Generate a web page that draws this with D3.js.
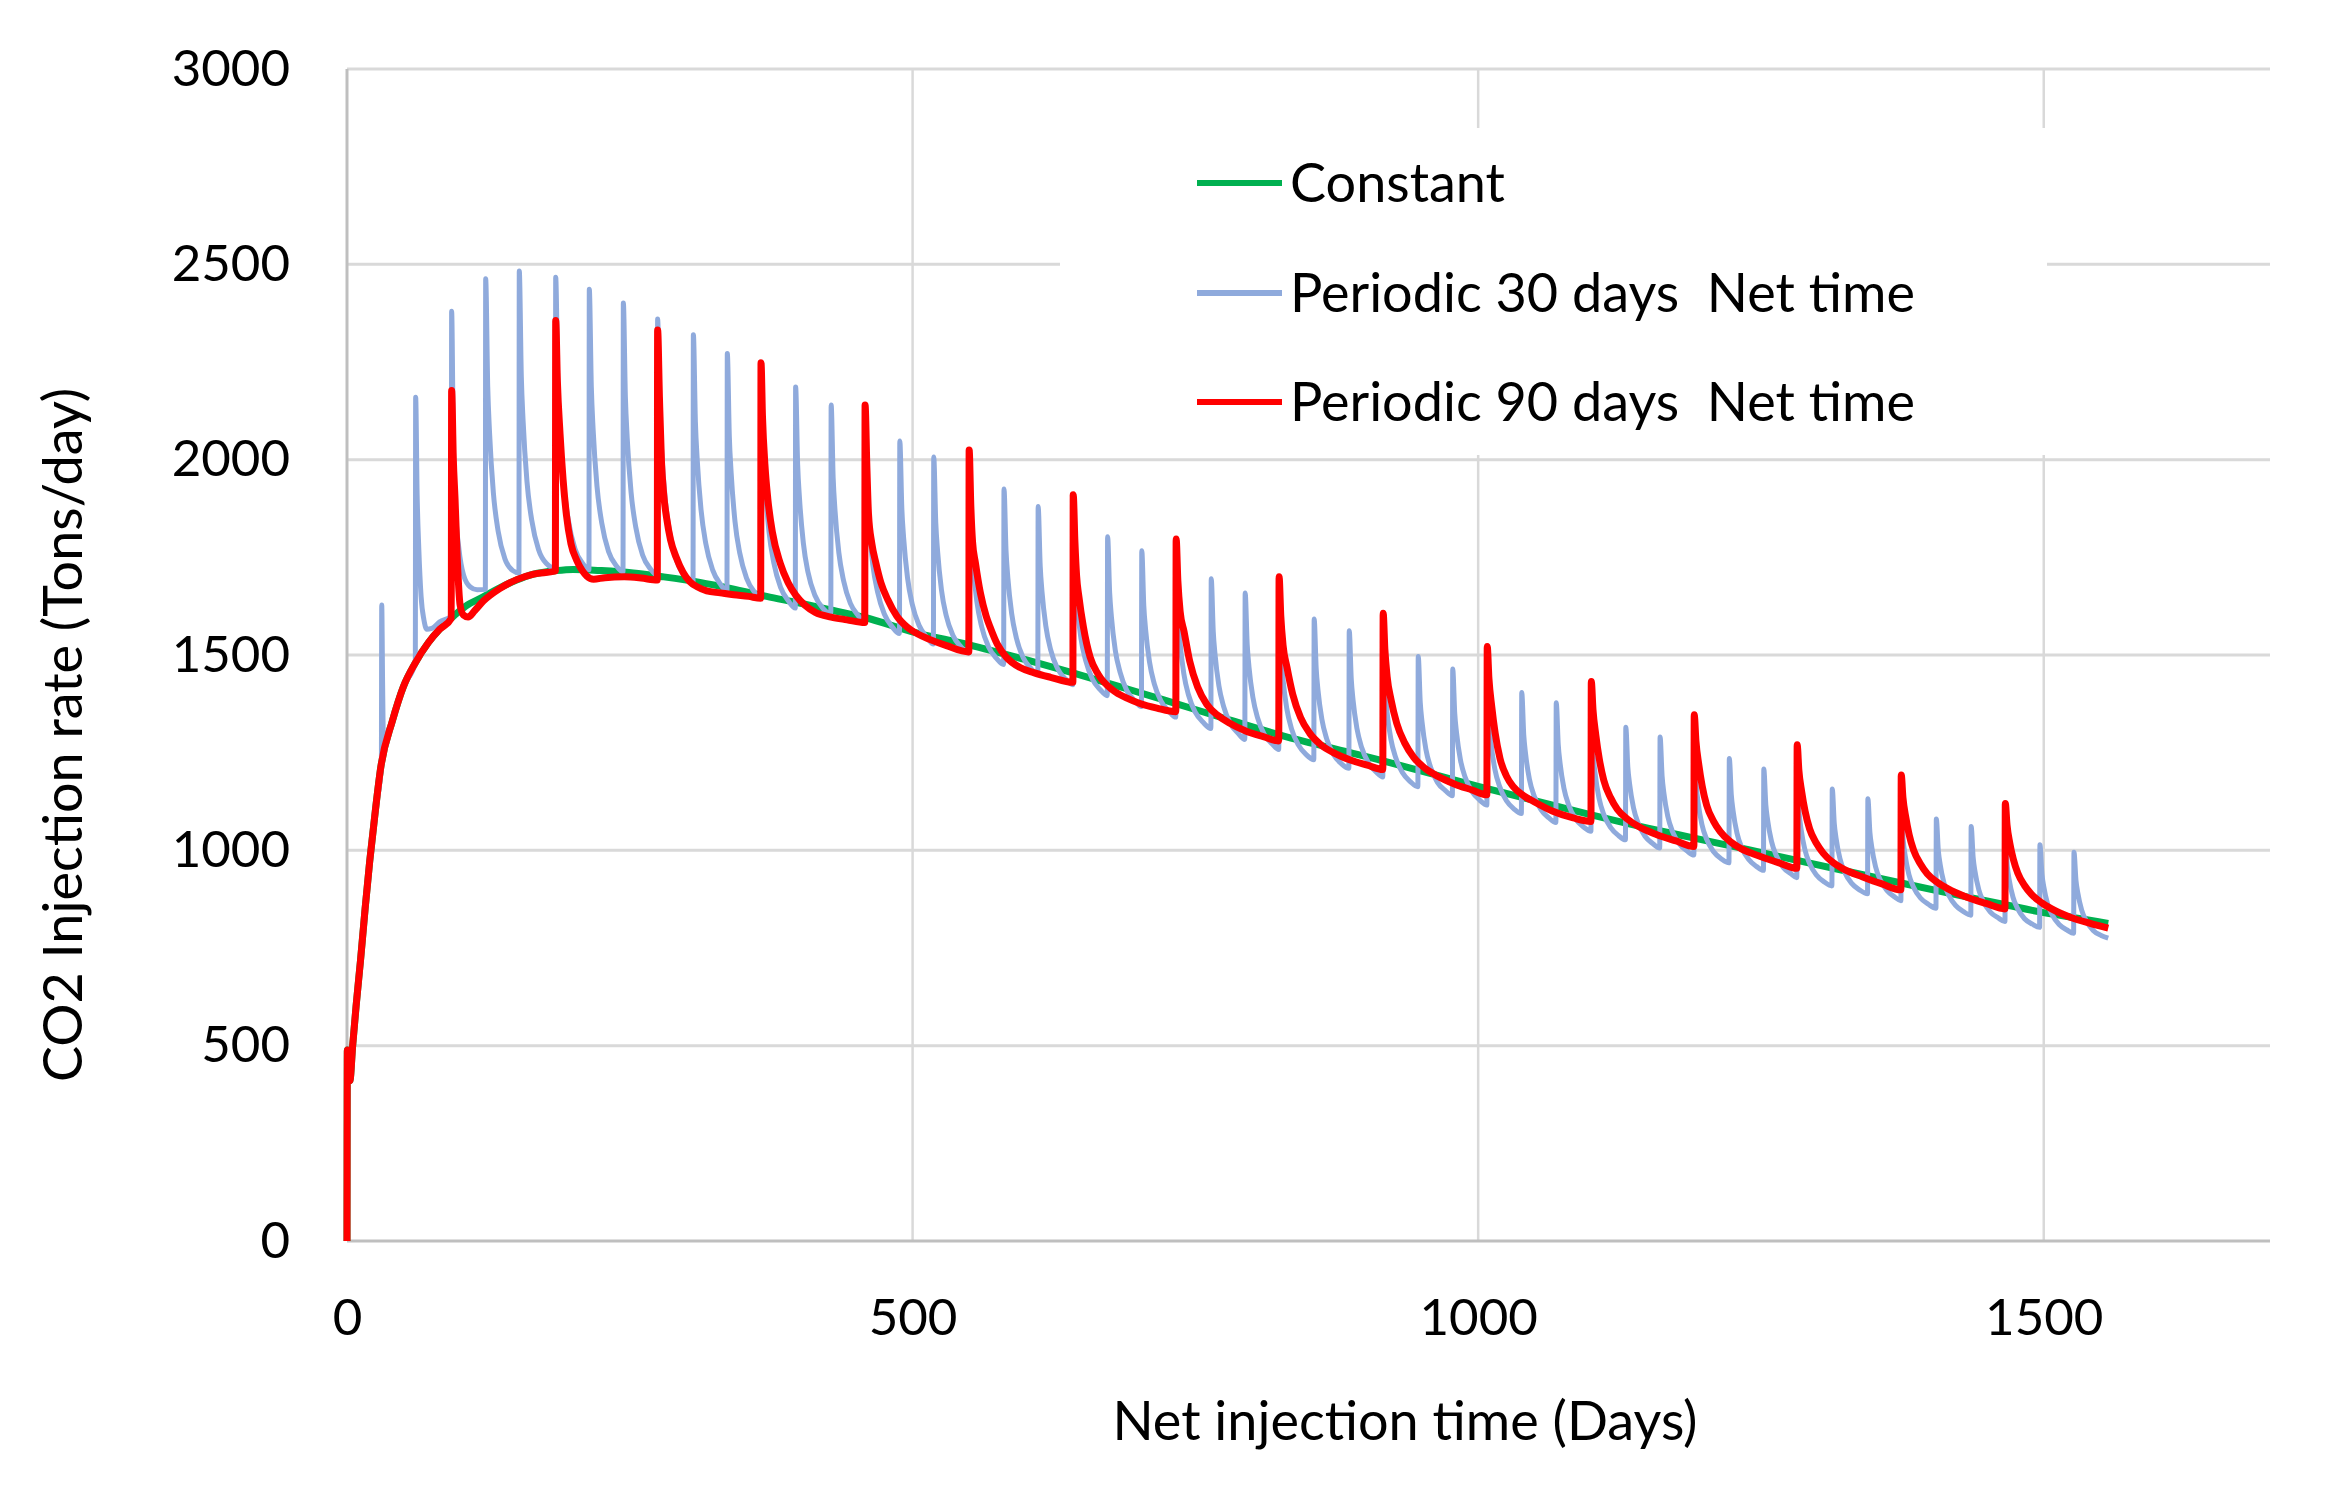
<!DOCTYPE html>
<html>
<head>
<meta charset="utf-8">
<script src="https://cdn.jsdelivr.net/npm/d3@7"></script>
<style>
    body { margin: 0; background: #fff; }
    text { font-family: Lato, "Open Sans", sans-serif; fill: #000; }
</style>
</head>
<body>
<svg id="chart" width="2339" height="1489"></svg>
<script>

// x ticks / y ticks
var xTicks = [0, 500, 1000, 1500];
var yTicks = [0, 500, 1000, 1500, 2000, 2500, 3000];

var seriesNames = ['Constant', 'Periodic 30 days  Net time', 'Periodic 90 days  Net time'];
var seriesColors = ['#00b050', '#8faadc', '#ff0000'];

// [net injection day, rate tons/day]
var constantRate = [
    [0, 0], [0.3, 489], [2.5, 410], [5, 500], [8, 600], [12, 720], [16, 850], [20, 970], [25, 1100], [30, 1215],
    [40, 1330], [50, 1420], [60, 1478], [72, 1532], [82, 1566], [92.5, 1595], [105, 1625], [120, 1648], [135, 1672],
    [150, 1692], [165, 1707], [185, 1716], [200, 1719], [225, 1716], [253, 1710], [280, 1700], [312, 1686], [340, 1670],
    [371, 1650], [400, 1633], [430, 1614], [458, 1596], [499, 1560], [550, 1526], [600, 1488], [641, 1455], [690, 1413],
    [730, 1378], [780, 1334], [829, 1292], [870, 1262], [916, 1229], [960, 1195], [1000, 1164], [1050, 1127],
    [1100, 1091], [1150, 1057], [1190, 1032], [1240, 1001], [1284, 973], [1330, 944], [1373, 917], [1420, 888],
    [1464, 862], [1501, 840], [1530, 826], [1557, 813]
];

var periodic30Rate = [
    [0, 0], [0.3, 489], [2.5, 410], [5, 500], [8, 600], [12, 720], [16, 850], [20, 970], [25, 1100], [30.4, 1218],
    [30.7, 1628], [31.5, 1420], [32.4, 1250], [34, 1265], [40, 1330], [50, 1420], [60.4, 1480],
    [60.7, 2160], [62, 1910], [63.5, 1770], [65.5, 1650], [68, 1590], [70.5, 1566], [75, 1568], [82, 1585], [92.2, 1600],
    [92.5, 2380], [94, 2040], [95.6, 1890], [99, 1770], [103, 1705], [109, 1674], [115, 1667], [122.3, 1668],
    [122.6, 2463], [124.4, 2187], [126, 2070], [129.4, 1915], [133.6, 1817], [139.6, 1746], [146.6, 1716], [152, 1710],
    [152.3, 2483], [154.1, 2213], [155.7, 2098], [159.1, 1944], [163.3, 1845], [169.3, 1770], [176.3, 1734], [184.2, 1722],
    [184.5, 2467], [186.3, 2206], [187.9, 2095], [191.3, 1945], [195.5, 1848], [201.5, 1772], [208.5, 1734], [213.9, 1718],
    [214.2, 2436], [216, 2185], [217.6, 2076], [221, 1932], [225.2, 1838], [231.2, 1765], [238.2, 1728], [244, 1713],
    [244.3, 2401], [246.1, 2160], [247.7, 2056], [251.1, 1917], [255.3, 1827], [261.3, 1756], [268.3, 1720], [274.3, 1704],
    [274.6, 2360], [276.4, 2129], [278, 2030], [281.4, 1897], [285.6, 1809], [291.6, 1740], [298.6, 1702], [305.9, 1684],
    [306.2, 2320], [308, 2096], [309.6, 2000], [313, 1871], [317.2, 1785], [323.2, 1718], [330.2, 1681], [335.9, 1663],
    [336.2, 2272], [338, 2058], [339.6, 1966], [343, 1842], [347.2, 1761], [353.2, 1697], [360.2, 1661], [366, 1645],
    [366.3, 2228], [368.1, 2023], [369.7, 1934], [373.1, 1815], [377.3, 1736], [383.3, 1673], [390.3, 1638], [396.3, 1620],
    [396.6, 2186], [398.4, 1987], [400, 1902], [403.4, 1787], [407.6, 1711], [413.6, 1653], [420.6, 1620], [427.7, 1606],
    [428, 2140], [429.8, 1952], [431.4, 1871], [434.8, 1762], [439, 1690], [445, 1632], [452, 1601], [457.7, 1585],
    [458, 2095], [459.8, 1915], [461.4, 1837], [464.8, 1732], [469, 1662], [475, 1605], [482, 1572], [488.4, 1555],
    [488.7, 2048], [490.5, 1874], [492.1, 1799], [495.5, 1698], [499.7, 1630], [505.7, 1576], [512.7, 1545], [518.4, 1528],
    [518.7, 2007], [520.5, 1838], [522.1, 1766], [525.5, 1667], [529.7, 1601], [535.7, 1550], [542.7, 1521], [549.7, 1505],
    [550, 1965], [551.8, 1803], [553.4, 1732], [556.8, 1637], [561, 1573], [567, 1522], [574, 1492], [580.5, 1476],
    [580.8, 1925], [582.6, 1767], [584.2, 1698], [587.6, 1606], [591.8, 1543], [597.8, 1493], [604.8, 1465], [610.7, 1450],
    [611, 1880], [612.8, 1729], [614.4, 1662], [617.8, 1574], [622, 1514], [628, 1466], [635, 1439], [641.7, 1424],
    [642, 1840], [643.8, 1693], [645.4, 1629], [648.8, 1543], [653, 1486], [659, 1438], [666, 1411], [672.1, 1396],
    [672.4, 1803], [674.2, 1660], [675.8, 1597], [679.2, 1512], [683.4, 1456], [689.4, 1409], [696.4, 1383], [702.3, 1368],
    [702.6, 1767], [704.4, 1626], [706, 1565], [709.4, 1483], [713.6, 1427], [719.6, 1382], [726.6, 1356], [732.7, 1341],
    [733, 1730], [734.8, 1593], [736.4, 1533], [739.8, 1452], [744, 1397], [750, 1353], [757, 1327], [763.7, 1312],
    [764, 1695], [765.8, 1560], [767.4, 1501], [770.8, 1421], [775, 1368], [781, 1324], [788, 1299], [793.7, 1284],
    [794, 1659], [795.8, 1527], [797.4, 1469], [800.8, 1392], [805, 1339], [811, 1296], [818, 1272], [823.7, 1258],
    [824, 1625], [825.8, 1496], [827.4, 1439], [830.8, 1363], [835, 1311], [841, 1270], [848, 1245], [854.7, 1232],
    [855, 1592], [856.8, 1465], [858.4, 1410], [861.8, 1336], [866, 1286], [872, 1246], [879, 1222], [885.7, 1210],
    [886, 1562], [887.8, 1438], [889.4, 1384], [892.8, 1312], [897, 1263], [903, 1224], [910, 1200], [915.7, 1188],
    [916, 1528], [917.8, 1408], [919.4, 1355], [922.8, 1285], [927, 1238], [933, 1199], [940, 1176], [946.7, 1163],
    [947, 1496], [948.8, 1378], [950.4, 1328], [953.8, 1258], [958, 1212], [964, 1174], [971, 1153], [977.2, 1140],
    [977.5, 1464], [979.3, 1350], [980.9, 1300], [984.3, 1232], [988.5, 1187], [994.5, 1151], [1001.5, 1128], [1007.7, 1116],
    [1008, 1434], [1009.8, 1322], [1011.4, 1273], [1014.8, 1207], [1019, 1163], [1025, 1127], [1032, 1105], [1038.2, 1094],
    [1038.5, 1404], [1040.3, 1295], [1041.9, 1247], [1045.3, 1182], [1049.5, 1139], [1055.5, 1104], [1062.5, 1083], [1068.7, 1071],
    [1069, 1378], [1070.8, 1270], [1072.4, 1223], [1075.8, 1159], [1080, 1116], [1086, 1081], [1093, 1060], [1099.7, 1049],
    [1100, 1346], [1101.8, 1241], [1103.4, 1196], [1106.8, 1134], [1111, 1092], [1117, 1059], [1124, 1038], [1130.2, 1027],
    [1130.5, 1315], [1132.3, 1213], [1133.9, 1169], [1137.3, 1109], [1141.5, 1069], [1147.5, 1036], [1154.5, 1017], [1160.5, 1006],
    [1160.8, 1290], [1162.6, 1190], [1164.2, 1146], [1167.6, 1087], [1171.8, 1048], [1177.8, 1017], [1184.8, 998], [1190.7, 988],
    [1191, 1262], [1192.8, 1165], [1194.4, 1123], [1197.8, 1066], [1202, 1028], [1208, 997], [1215, 978], [1221.7, 968],
    [1222, 1235], [1223.8, 1141], [1225.4, 1100], [1228.8, 1044], [1233, 1007], [1239, 977], [1246, 959], [1252.2, 949],
    [1252.5, 1208], [1254.3, 1116], [1255.9, 1077], [1259.3, 1023], [1263.5, 987], [1269.5, 957], [1276.5, 940], [1281.7, 930],
    [1282, 1183], [1283.8, 1093], [1285.4, 1055], [1288.8, 1002], [1293, 966], [1299, 937], [1306, 919], [1312.7, 909],
    [1313, 1157], [1314.8, 1069], [1316.4, 1031], [1319.8, 979], [1324, 944], [1330, 916], [1337, 899], [1344.2, 889],
    [1344.5, 1132], [1346.3, 1046], [1347.9, 1009], [1351.3, 958], [1355.5, 924], [1361.5, 897], [1368.5, 880], [1373.7, 871],
    [1374, 1108], [1375.8, 1024], [1377.4, 988], [1380.8, 938], [1385, 905], [1391, 878], [1398, 862], [1404.7, 852],
    [1405, 1080], [1406.8, 999], [1408.4, 964], [1411.8, 916], [1416, 885], [1422, 859], [1429, 843], [1435.5, 834],
    [1435.8, 1061], [1437.6, 981], [1439.2, 946], [1442.6, 899], [1446.8, 868], [1452.8, 842], [1459.8, 827], [1465.7, 818],
    [1466, 1035], [1467.8, 958], [1469.4, 925], [1472.8, 880], [1477, 850], [1483, 825], [1490, 811], [1496.3, 803],
    [1496.6, 1014], [1498.4, 939], [1500, 907], [1503.4, 863], [1507.6, 834], [1513.6, 810], [1520.6, 796], [1526.4, 788],
    [1526.7, 995], [1528.5, 922], [1530.1, 891], [1533.5, 847], [1537.7, 819], [1543.7, 795], [1550.7, 782], [1557, 775]
];

var periodic90Rate = [
    [0, 0], [0.3, 489], [2.5, 410], [5, 500], [8, 600], [12, 720], [16, 850], [20, 970], [25, 1100], [30, 1215],
    [40, 1330], [50, 1420], [60, 1478], [72, 1532], [82, 1566], [92.2, 1594],
    [92.5, 2177], [94, 2000], [95.5, 1900], [97.5, 1745], [100, 1628], [103, 1602], [107, 1597], [113, 1614],
    [120.5, 1638], [135, 1670], [150, 1693], [165, 1707], [184.2, 1715],
    [184.5, 2356], [186, 2200], [188.3, 2068], [191, 1950], [194, 1858], [198, 1785], [203, 1743], [208, 1716],
    [212, 1702], [218, 1694], [228, 1698], [245, 1700], [260, 1697], [274.3, 1692],
    [274.6, 2332], [276.2, 2160], [278, 1995], [280, 1910], [282.6, 1850], [286, 1795], [291, 1750], [297, 1712],
    [303, 1688], [310, 1674], [318, 1664], [330, 1659], [342, 1654], [355, 1650], [365.7, 1645],
    [366, 2248], [367.3, 2110], [369.5, 1985], [372, 1900], [376, 1815], [383, 1735], [390, 1685], [397, 1652],
    [405, 1627], [414, 1609], [428, 1597], [442, 1590], [457.7, 1583],
    [458, 2140], [459.5, 1990], [461, 1862], [464, 1785], [467.6, 1735], [472, 1685], [478, 1642], [486, 1600],
    [495, 1572], [505, 1553], [515, 1540], [530, 1524], [549.7, 1508],
    [550, 2025], [551.5, 1880], [553, 1790], [555.6, 1735], [560, 1658], [565, 1600], [569, 1568], [575, 1527],
    [583, 1494], [595, 1468], [607, 1455], [622, 1443], [641.7, 1430],
    [642, 1910], [643.5, 1790], [645, 1702], [647, 1650], [651, 1572], [657, 1494], [664, 1451], [677, 1410],
    [690, 1389], [701, 1376], [716, 1364], [732.7, 1355],
    [733, 1797], [734.5, 1690], [736.5, 1612], [740, 1560], [745, 1484], [752, 1418], [760, 1374], [770, 1345],
    [780, 1326], [795, 1305], [810, 1291], [823.7, 1280],
    [824, 1700], [825.5, 1600], [827.5, 1525], [831, 1468], [836, 1400], [843, 1340], [851, 1300], [861, 1270],
    [872, 1250], [887, 1231], [902, 1218], [915.7, 1207],
    [916, 1607], [917.5, 1515], [919.5, 1445], [923, 1385], [928, 1325], [935, 1275], [943, 1238], [953, 1210],
    [964, 1190], [979, 1170], [994, 1155], [1007.7, 1142],
    [1008, 1522], [1009.5, 1440], [1012, 1368], [1015, 1300], [1019.3, 1235], [1025, 1190], [1031, 1163], [1040, 1140],
    [1049, 1125], [1066, 1100], [1084, 1083], [1099.7, 1074],
    [1100, 1432], [1101.5, 1360], [1104, 1295], [1107, 1235], [1111, 1180], [1117, 1135], [1123, 1105], [1132, 1080],
    [1141, 1062], [1158, 1040], [1175, 1024], [1190.7, 1010],
    [1191, 1347], [1192.5, 1280], [1195, 1220], [1198, 1165], [1202, 1115], [1208, 1075], [1214, 1048], [1223, 1022],
    [1232, 1005], [1249, 985], [1266, 968], [1281.7, 954],
    [1282, 1270], [1283.5, 1205], [1286, 1150], [1289, 1100], [1293, 1055], [1299, 1018], [1305, 993], [1314, 968],
    [1323, 952], [1340, 932], [1357, 914], [1373.7, 899],
    [1374, 1193], [1375.5, 1135], [1378, 1085], [1381, 1040], [1385, 1000], [1391, 965], [1397, 940], [1406, 918],
    [1415, 902], [1432, 880], [1449, 864], [1465.7, 850],
    [1466, 1120], [1467.5, 1065], [1470, 1018], [1473, 978], [1477, 942], [1483, 910], [1489, 888], [1498, 866],
    [1507, 850], [1524, 828], [1541, 813], [1557, 801]
];

var svg = d3.select('#chart');
svg.append('rect').attr('width', 2339).attr('height', 1489).attr('fill', '#fff');

var plot = { left: 347, right: 2270, top: 69, bottom: 1241 };

var x = d3.scaleLinear().domain([0, 1700]).range([plot.left, plot.right]);
var y = d3.scaleLinear().domain([0, 3000]).range([plot.bottom, plot.top]);

// gridlines
svg.append('g')
    .selectAll('line')
    .data(yTicks.filter(function (d) { return d > 0; }))
    .enter().append('line')
    .attr('x1', plot.left).attr('x2', plot.right)
    .attr('y1', function (d) { return y(d); }).attr('y2', function (d) { return y(d); })
    .attr('stroke', '#d9d9d9').attr('stroke-width', 3);

svg.append('g')
    .selectAll('line')
    .data(xTicks.filter(function (d) { return d > 0; }))
    .enter().append('line')
    .attr('x1', function (d) { return x(d); }).attr('x2', function (d) { return x(d); })
    .attr('y1', plot.top).attr('y2', plot.bottom)
    .attr('stroke', '#d9d9d9').attr('stroke-width', 2.5);

// axis lines
svg.append('line').attr('x1', plot.left).attr('x2', plot.left).attr('y1', plot.top).attr('y2', plot.bottom)
    .attr('stroke', '#bfbfbf').attr('stroke-width', 3);
svg.append('line').attr('x1', plot.left).attr('x2', plot.right).attr('y1', plot.bottom).attr('y2', plot.bottom)
    .attr('stroke', '#bfbfbf').attr('stroke-width', 3);

// tick labels
var yAxis = svg.append('g')
    .attr('transform', 'translate(' + plot.left + ',0)')
    .call(d3.axisLeft(y).tickValues(yTicks).tickSize(0).tickPadding(57).tickFormat(d3.format('d')));
yAxis.select('.domain').remove();
yAxis.selectAll('text').style('font-size', '51px').style('font-family', 'Lato, "Open Sans", sans-serif').attr('fill', '#000');

var xAxis = svg.append('g')
    .attr('transform', 'translate(0,' + plot.bottom + ')')
    .call(d3.axisBottom(x).tickValues(xTicks).tickSize(0).tickPadding(58).tickFormat(d3.format('d')));
xAxis.select('.domain').remove();
xAxis.selectAll('text').style('font-size', '51px').style('font-family', 'Lato, "Open Sans", sans-serif').attr('fill', '#000');

// axis titles
svg.append('text')
    .attr('x', 1405).attr('y', 1440)
    .attr('text-anchor', 'middle')
    .style('font-size', '54px')
    .text('Net injection time (Days)');

svg.append('text')
    .attr('transform', 'translate(82,735) rotate(-90)')
    .attr('text-anchor', 'middle')
    .style('font-size', '54px')
    .text('CO2 Injection rate (Tons/day)');

// series, drawn in legend order (red ends on top)
var line = d3.line()
    .x(function (d) { return x(d[0]); })
    .y(function (d) { return y(d[1]); })
    .curve(d3.curveMonotoneX);

var series = [constantRate, periodic30Rate, periodic90Rate];
var widths = [7, 5, 7];

series.forEach(function (data, i) {
    svg.append('path')
        .datum(data)
        .attr('d', line)
        .attr('fill', 'none')
        .attr('stroke', seriesColors[i])
        .attr('stroke-width', widths[i])
        .attr('stroke-linejoin', 'round');
});

// legend (white box over gridlines)
var legend = svg.append('g');
legend.append('rect')
    .attr('x', 1060).attr('y', 128).attr('width', 987).attr('height', 327)
    .attr('fill', '#fff');

var rowY = [183, 293, 402];
seriesNames.forEach(function (name, i) {
    legend.append('line')
        .attr('x1', 1197).attr('x2', 1282)
        .attr('y1', rowY[i]).attr('y2', rowY[i])
        .attr('stroke', seriesColors[i]).attr('stroke-width', 6);
    legend.append('text')
        .attr('x', 1290).attr('y', rowY[i] + 19)
        .style('font-size', '54px')
        .style('white-space', 'pre')
        .attr('xml:space', 'preserve')
        .text(name);
});

</script>
</body>
</html>
